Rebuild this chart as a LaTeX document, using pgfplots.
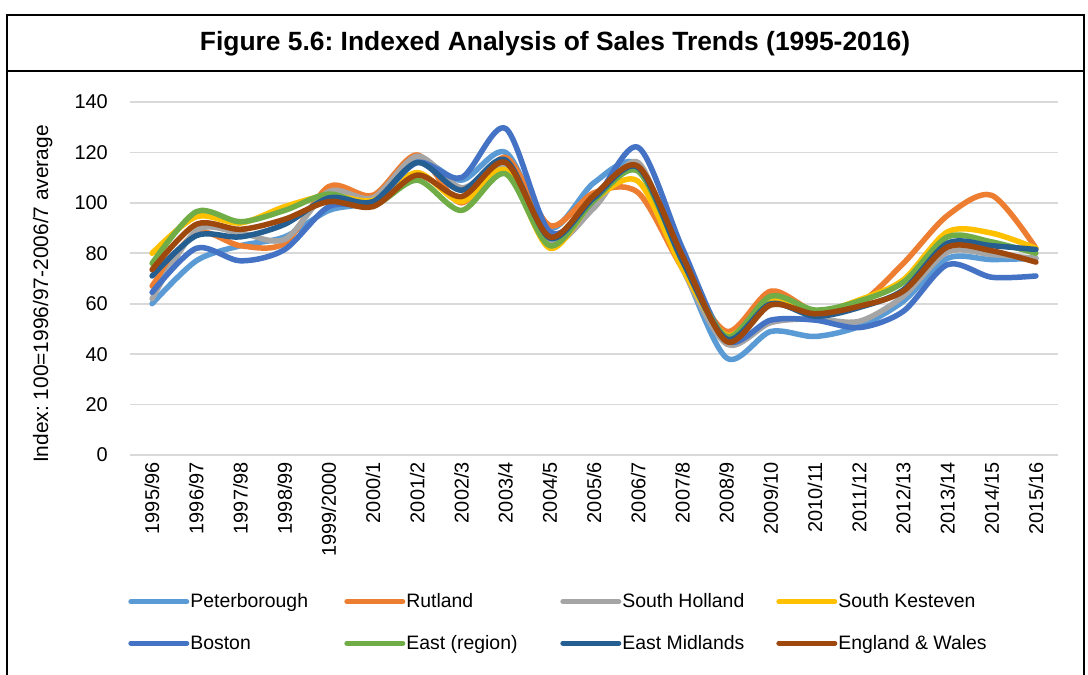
\documentclass[border=0pt]{standalone}
\usepackage{fontspec}
\setmainfont{Liberation Sans}
\usepackage{pgfplots}
\usepackage{pgfplotstable}
\pgfplotsset{compat=1.18}
\frenchspacing

\definecolor{cPB}{HTML}{5B9BD5}
\definecolor{cRU}{HTML}{ED7D31}
\definecolor{cSH}{HTML}{A5A5A5}
\definecolor{cSK}{HTML}{FFC000}
\definecolor{cBO}{HTML}{4472C4}
\definecolor{cEA}{HTML}{70AD47}
\definecolor{cEM}{HTML}{255E91}
\definecolor{cEW}{HTML}{9E480E}
\definecolor{gridgray}{HTML}{D9D9D9}

% index values, 1995/96 .. 2015/16
\pgfplotstableread{
i  PB    RU    SH    SK    BO    EA    EM    EW
0  60    67    62    80    64.5  76    71    73.5
1  77    88    89    94.5  82    96.5  87    91.5
2  83    83    88    92    77    92.5  86.5  89.5
3  86.5  84    85.5  98.5  81.5  97    91.5  93.5
4  97    106.5 104.5 103   98.5  103.5 102   100.5
5  101   103   102   101   100   99    100.5 98.5
6  117   119   118.5 112   116   109   116   111
7  109   100   106   100.5 110   97    105   102.5
8  120   118   114   113   129.5 111.5 117   116
9  90    91    84    82    88.5  83    86    86.5
10 108   104   98    101   101   101   102   103
11 115   104   116   108.5 122   112.5 114   114.5
12 75    74    74    74    82    77    77    79
13 38.5  49    44    47.5  45.5  47    46    45
14 49    65    52.5  61    53.5  63    60    59.5
15 47    57    54    56.5  53.5  57.5  55    56
16 51    60    53    61.5  50.5  61    58.5  59
17 61    76    63    69.5  57    68.5  65.5  65
18 78    95    80.5  88.5  75.5  86.5  84    82.5
19 77.5  103   79.5  88    70.5  84.5  83    81
20 78    82    78    82    71    80    81.5  76.5
}\salesdata

\begin{document}
\begin{tikzpicture}
\useasboundingbox (0bp,0bp) rectangle (1088bp,675bp);
\fill[white] (0bp,0bp) rectangle (1088bp,675bp);
% frame and title box
\draw[line width=2bp] (7bp,-20bp) -- (7bp,660bp) -- (1084bp,660bp) -- (1084bp,-20bp);
\draw[line width=2bp] (7bp,604bp) -- (1084bp,604bp);
\node[font=\bfseries\fontsize{26.5}{30}\selectfont] at (555bp,631bp) {Figure 5.6: Indexed Analysis of Sales Trends (1995-2016)};

\begin{axis}[
  at={(130bp,220bp)}, anchor=south west,
  width=928bp, height=353bp, scale only axis,
  xmin=-0.5, xmax=20.5, ymin=0, ymax=140,
  ytick={0,20,...,140},
  xtick={0,...,20},
  xticklabels={1995/96,1996/97,1997/98,1998/99,1999/2000,2000/1,2001/2,2002/3,2003/4,2004/5,2005/6,2006/7,2007/8,2008/9,2009/10,2010/11,2011/12,2012/13,2013/14,2014/15,2015/16},
  /pgf/number format/assume math mode=true,
  ymajorgrids, major grid style={draw=gridgray, line width=1.6bp},
  axis line style={draw=none},
  major tick length=0pt,
  tick label style={font=\fontsize{20}{24}\selectfont},
  xticklabel style={rotate=90, anchor=east, inner sep=0pt},
  xticklabel shift=7bp,
  yticklabel style={anchor=east, inner sep=0pt},
  yticklabel shift=22bp,
  ylabel={Index: 100=1996/97-2006/7 average},
  ylabel style={font=\fontsize{21}{25}\selectfont, at={(axis description cs:-0.094,0.456)}, anchor=center},
  every axis plot/.append style={line width=5.5bp, smooth, tension=0.5, line cap=round, line join=round},
  legend columns=4,
  legend cell align=left,
  legend image code/.code={\draw[#1, line width=5bp] (0bp,0bp) -- (56bp,0bp);},
  legend style={at={(axis description cs:-0.002,-0.39)}, anchor=north west, draw=none, fill=none,
    font=\fontsize{19.5}{23}\selectfont, inner sep=0pt, column sep=0pt, row sep=24bp,
    nodes={inner sep=1bp}},
]
\addplot[cPB] table[x=i,y=PB] {\salesdata};
\addlegendentry{\makebox[153bp][l]{Peterborough}}
\addplot[cRU] table[x=i,y=RU] {\salesdata};
\addlegendentry{\makebox[153bp][l]{Rutland}}
\addplot[cSH] table[x=i,y=SH] {\salesdata};
\addlegendentry{\makebox[153bp][l]{South Holland}}
\addplot[cSK] table[x=i,y=SK] {\salesdata};
\addlegendentry{\makebox[153bp][l]{South Kesteven}}
\addplot[cBO] table[x=i,y=BO] {\salesdata};
\addlegendentry{\makebox[153bp][l]{Boston}}
\addplot[cEA] table[x=i,y=EA] {\salesdata};
\addlegendentry{\makebox[153bp][l]{East (region)}}
\addplot[cEM] table[x=i,y=EM] {\salesdata};
\addlegendentry{\makebox[153bp][l]{East Midlands}}
\addplot[cEW] table[x=i,y=EW] {\salesdata};
\addlegendentry{\makebox[153bp][l]{England \& Wales}}
\end{axis}
\end{tikzpicture}
\end{document}
